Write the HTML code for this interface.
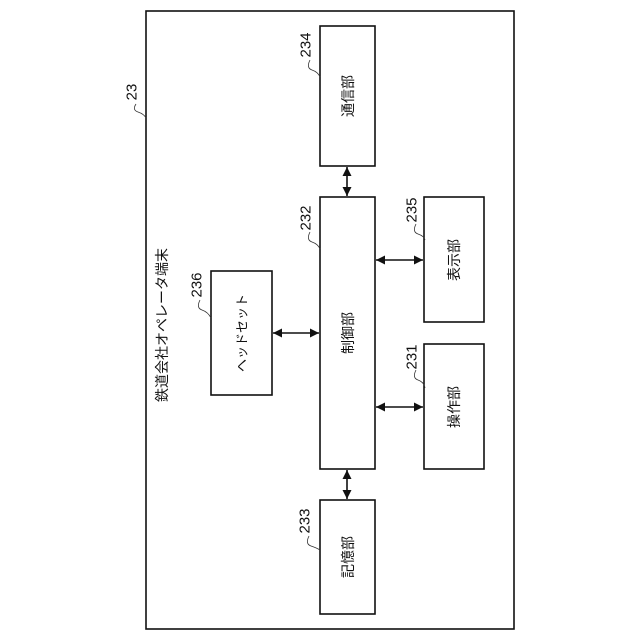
<!DOCTYPE html>
<html><head><meta charset="utf-8"><style>
html,body{margin:0;padding:0;background:#fff}
svg{display:block}
text{font-family:"Liberation Sans","Noto Sans CJK JP",sans-serif;fill:#111}
</style></head><body>
<svg width="640" height="640" viewBox="0 0 640 640" xmlns="http://www.w3.org/2000/svg">
<defs>
<marker id="a" viewBox="0 0 10 10" refX="10" refY="5" markerWidth="9" markerHeight="9" orient="auto-start-reverse" markerUnits="userSpaceOnUse"><path d="M0,0 L10,5 L0,10 z" fill="#111"/></marker>
</defs>
<g fill="none" stroke="#111" stroke-width="1.6">
<rect x="146" y="11" width="368" height="618"/>
<rect x="320" y="26" width="55" height="140"/>
<rect x="320" y="197" width="55" height="272"/>
<rect x="320" y="500" width="55" height="114"/>
<rect x="211" y="271" width="61" height="124"/>
<rect x="424" y="197" width="60" height="125"/>
<rect x="424" y="344" width="60" height="125"/>
</g>
<g stroke="#111" stroke-width="1.6" marker-start="url(#a)" marker-end="url(#a)">
<line x1="347" y1="167" x2="347" y2="196"/>
<line x1="347" y1="470" x2="347" y2="499"/>
<line x1="273" y1="333" x2="319" y2="333"/>
<line x1="376" y1="260" x2="423" y2="260"/>
<line x1="376" y1="407" x2="423" y2="407"/>
</g>
<g fill="none" stroke="#333" stroke-width="0.8">
<path d="M136,104 q-4,6 2,8 q6,2 8,6"/>
<path d="M310,60 q-4,8 2,10 q6,2 8,7"/>
<path d="M310,232 q-4,8 2,10 q6,2 8,7"/>
<path d="M416,224 q-4,8 2,10 q6,2 7,6"/>
<path d="M200,300 q-4,8 2,10 q6,2 9,8"/>
<path d="M416,370 q-4,8 2,10 q6,2 7,8"/>
<path d="M309,536 q-4,8 2,10 q6,2 9,4"/>
</g>
<g font-size="14" text-anchor="middle" dominant-baseline="central">
<text transform="translate(162,325) rotate(-90)" font-size="14">鉄道会社オペレータ端末</text>
<text transform="translate(348,96) rotate(-90)">通信部</text>
<text transform="translate(348,333) rotate(-90)">制御部</text>
<text transform="translate(348,557) rotate(-90)">記憶部</text>
<text transform="translate(242,333) rotate(-90)" font-size="13">ヘッドセット</text>
<text transform="translate(454,260) rotate(-90)">表示部</text>
<text transform="translate(454,407) rotate(-90)">操作部</text>
</g>
<g font-size="15" text-anchor="middle" dominant-baseline="central">
<text transform="translate(132,92) rotate(-90)">23</text>
<text transform="translate(306,45) rotate(-90)">234</text>
<text transform="translate(306,218) rotate(-90)">232</text>
<text transform="translate(412,210) rotate(-90)">235</text>
<text transform="translate(197,285) rotate(-90)">236</text>
<text transform="translate(412,357) rotate(-90)">231</text>
<text transform="translate(305,521) rotate(-90)">233</text>
</g>
</svg>
</body></html>
